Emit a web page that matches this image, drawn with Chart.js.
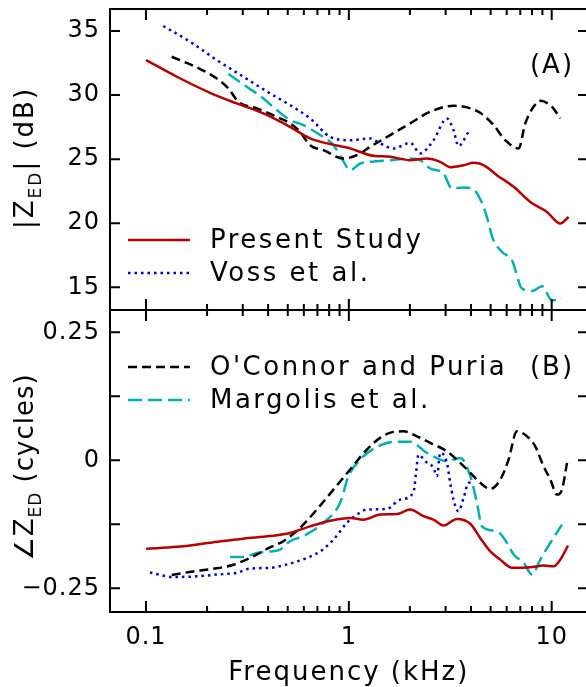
<!DOCTYPE html>
<html><head><meta charset="utf-8">
<script src="https://cdn.jsdelivr.net/npm/chart.js@4"></script>
<style>
html,body{margin:0;padding:0;background:#fff;overflow:hidden;width:586px;height:687px}
#wrap{position:relative;width:586px;height:687px;overflow:hidden;background:#fff}
canvas{position:absolute;left:0}
</style></head><body>
<div id="wrap">
<canvas id="cA" width="592" height="320" style="top:0;width:592px;height:320px"></canvas>
<canvas id="cB" width="592" height="387" style="top:300px;width:592px;height:387px"></canvas>
</div>
<script>
// ---------- data ----------
const xMajorTicks = [0.1, 1, 10];
const xTickLabels = ['0.1', '1', '10'];
const xMinorTicks = [0.2,0.3,0.4,0.5,0.6,0.7,0.8,0.9,2,3,4,5,6,7,8,9];
const magTicks = [15, 20, 25, 30, 35];
const angTicks = [-0.25, -0.125, 0, 0.125, 0.25];
const angTickLabels = ['\u22120.25', '', '0', '', '0.25'];

// (A) magnitude, dB
const presentMagFreq = [0.1,0.142,0.207,0.280,0.379,0.513,0.644,0.809,1.015,1.274,1.599,2.006,2.425,2.82,3.16,3.68,4.12,4.61,5.37,6.49,7.84,9.48,11.03,12.12];
const presentMag = [32.73,31.43,30.18,29.35,28.57,27.52,26.62,26.17,25.84,25.31,25.18,24.92,25.05,24.79,24.37,24.53,24.71,24.53,23.75,22.84,21.66,20.88,19.98,20.49];
const vossMagFreq = [0.1217,0.165,0.2233,0.302,0.409,0.513,0.644,0.809,1.015,1.274,1.426,1.66,2.006,2.247,2.615,3.045,3.28,3.47,3.89];
const vossMag = [35.39,34.16,32.73,31.43,30.13,29.22,28.18,26.74,26.48,26.62,26.23,25.84,26.27,25.45,26.48,28.18,27.27,26.02,27.13];
const ocMagFreq = [0.1339,0.178,0.2233,0.2547,0.2854,0.352,0.4414,0.513,0.575,0.644,0.749,0.9406,1.095,1.274,1.599,2.006,2.518,3.28,3.82,4.44,5.17,5.90,6.87,7.41,8.14,8.79,10.03,11.03];
const ocMag = [32.99,32.16,31.30,30.52,29.48,28.96,28.30,27.79,27.13,26.09,25.70,25.05,25.31,25.96,26.88,27.79,28.70,29.16,29.04,28.62,27.66,26.48,25.84,27.79,29.09,29.55,29.09,28.18];
const marMagFreq = [0.2547,0.314,0.379,0.4414,0.513,0.597,0.722,0.840,0.924,1.015,1.137,1.274,1.599,2.006,2.247,2.518,2.93,3.22,3.68,4.05,4.53,4.85,5.1,5.69,6.37,7.14,8.0,8.96,10.03,11.24];
const marMag = [31.64,30.65,29.74,28.83,28.05,27.66,26.88,26.09,25.05,24.14,24.66,24.79,24.92,25.05,24.92,24.27,23.88,22.71,22.79,22.71,21.6,20.2,18.9,17.76,17.11,14.90,14.71,15.08,13.98,14.12];

// (B) angle, cycles
const presentAngFreq = [0.1,0.1418,0.207,0.302,0.409,0.513,0.644,0.809,1.015,1.18,1.426,1.725,2.006,2.334,2.615,2.93,3.41,3.97,4.44,4.98,5.58,6.37,7.84,9.12,10.22,11.03,12.03];
const presentAng = [-0.173,-0.169,-0.161,-0.153,-0.148,-0.142,-0.129,-0.118,-0.1125,-0.116,-0.106,-0.105,-0.096,-0.109,-0.116,-0.1275,-0.1145,-0.124,-0.1516,-0.178,-0.194,-0.210,-0.209,-0.2057,-0.207,-0.194,-0.1666];
const vossAngFreq = [0.1046,0.1364,0.178,0.2406,0.2786,0.326,0.409,0.513,0.6206,0.722,0.840,0.978,1.095,1.227,1.54,1.79,2.083,2.14,2.205,2.38,2.615,2.72,2.82,3.045,3.16,3.28,3.47,3.68,3.89,4.12];
const vossAng = [-0.219,-0.228,-0.2266,-0.222,-0.220,-0.2115,-0.210,-0.2018,-0.1906,-0.178,-0.155,-0.122,-0.106,-0.0963,-0.095,-0.0768,-0.0625,-0.028,0.011,-0.002,-0.0148,-0.031,0.0145,-0.005,-0.044,-0.0768,-0.0996,-0.0734,-0.044,-0.044];
const ocAngFreq = [0.1339,0.171,0.2148,0.2696,0.3383,0.409,0.4757,0.575,0.695,0.840,1.015,1.227,1.426,1.66,1.86,2.166,2.518,3.045,3.54,3.97,4.44,4.98,5.58,6.13,6.74,7.55,8.30,9.12,9.85,10.62,11.24,11.9];
const ocAng = [-0.224,-0.217,-0.212,-0.204,-0.1875,-0.170,-0.158,-0.132,-0.0963,-0.0572,-0.018,0.0209,0.0438,0.0555,0.0566,0.0469,0.034,0.0176,-0.005,-0.0246,-0.044,-0.056,-0.0377,0.0014,0.0566,0.0469,0.0273,-0.0117,-0.0377,-0.067,-0.0572,-0.005];
const marAngFreq = [0.2597,0.302,0.352,0.409,0.458,0.513,0.597,0.749,0.906,0.996,1.137,1.374,1.66,2.006,2.425,2.82,3.045,3.54,3.97,4.28,4.53,5.37,6.02,6.49,7.27,8.0,8.79,9.85,11.24];
const marAng = [-0.189,-0.189,-0.181,-0.178,-0.1744,-0.158,-0.148,-0.122,-0.083,-0.031,0.0014,0.026,0.036,0.036,0.0145,0.0014,-0.002,0.0047,-0.031,-0.083,-0.129,-0.1387,-0.161,-0.184,-0.200,-0.223,-0.194,-0.161,-0.1256];

const seriesNames = ['Present Study', 'Voss et al.', "O'Connor and Puria", 'Margolis et al.'];

// ---------- style ----------
const FAM = '"DejaVu Sans", "Liberation Sans", sans-serif';
const styles = [
  {color:'#b40000', dash:[]},
  {color:'#0000c8', dash:[2.5,4]},
  {color:'#000000', dash:[9,5]},
  {color:'#00b0b0', dash:[14,6]}
];
const X_MIN = 0.06647, X_MAX = 15.1;

const zip = (xs, ys) => xs.map((x, i) => ({x, y: ys[i]}));
function ds(i, xs, ys) {
  return {label: seriesNames[i], data: zip(xs, ys), borderColor: styles[i].color,
    borderDash: styles[i].dash, borderWidth: 2.5, pointRadius: 0, fill: false,
    cubicInterpolationMode: 'monotone', borderCapStyle: 'butt', borderJoinStyle: 'round'};
}

function drawFrame(chart) {
  const {ctx, chartArea: a, scales: {x, y}} = chart;
  ctx.save();
  ctx.strokeStyle = '#000'; ctx.lineWidth = 2; ctx.setLineDash([]);
  ctx.beginPath();
  ctx.rect(a.left, a.top, a.right - a.left, a.bottom - a.top);
  xMajorTicks.forEach(v => { const p = x.getPixelForValue(v);
    ctx.moveTo(p, a.top); ctx.lineTo(p, a.top + 11); ctx.moveTo(p, a.bottom); ctx.lineTo(p, a.bottom - 11); });
  xMinorTicks.forEach(v => { const p = x.getPixelForValue(v);
    ctx.moveTo(p, a.top); ctx.lineTo(p, a.top + 6); ctx.moveTo(p, a.bottom); ctx.lineTo(p, a.bottom - 6); });
  y.ticks.forEach(t => { const p = y.getPixelForValue(t.value);
    ctx.moveTo(a.left, p); ctx.lineTo(a.left + 10, p); ctx.moveTo(a.right, p); ctx.lineTo(a.right - 10, p); });
  ctx.stroke();
  ctx.restore();
}

function drawLegend(chart, items) {
  const ctx = chart.ctx;
  ctx.save();
  items.forEach(([i, yy]) => {
    ctx.beginPath();
    ctx.strokeStyle = styles[i].color; ctx.lineWidth = 2.5; ctx.setLineDash(styles[i].dash);
    ctx.moveTo(128, yy); ctx.lineTo(190, yy); ctx.stroke();
    ctx.setLineDash([]);
    ctx.fillStyle = '#000'; ctx.font = '26px ' + FAM; ctx.letterSpacing = '2.5px';
    ctx.textAlign = 'left'; ctx.textBaseline = 'middle';
    ctx.fillText(seriesNames[i], 210, yy + 1);
  });
  ctx.restore();
}

function drawYTitle(ctx, cx, cy, pre, sub, post, sp) {
  const MAIN = '26px ' + FAM, SUB = '17px ' + FAM;
  ctx.save();
  ctx.translate(cx, cy); ctx.rotate(-Math.PI / 2);
  ctx.fillStyle = '#000'; ctx.textAlign = 'left'; ctx.textBaseline = 'alphabetic';
  ctx.letterSpacing = sp;
  ctx.font = MAIN; const w1 = ctx.measureText(pre).width, w3 = ctx.measureText(post).width;
  ctx.font = SUB; const w2 = ctx.measureText(sub).width;
  let xx = -(w1 + w2 + w3) / 2;
  ctx.font = MAIN; ctx.fillText(pre, xx, 0); xx += w1;
  ctx.font = SUB; ctx.fillText(sub, xx, 8); xx += w2;
  ctx.font = MAIN; ctx.fillText(post, xx, 0);
  ctx.restore();
}

function drawLabel(ctx, text, x, y) {
  ctx.save();
  ctx.fillStyle = '#000'; ctx.font = '26px ' + FAM; ctx.letterSpacing = '2px';
  ctx.textAlign = 'center'; ctx.textBaseline = 'middle';
  ctx.fillText(text, x, y);
  ctx.restore();
}

const spacingPlugin = { id: 'spacing', beforeDraw(chart) { chart.ctx.letterSpacing = '1px'; } };

const decoA = { id: 'decoA', afterDraw(chart) {
  drawFrame(chart);
  drawLegend(chart, [[0, 240], [1, 273]]);
  drawYTitle(chart.ctx, 33, 158, '|Z', 'ED', '| (dB)', '2px');
  drawLabel(chart.ctx, '(A)', 552, 66);
}};
const decoB = { id: 'decoB', afterDraw(chart) {
  drawFrame(chart);
  drawLegend(chart, [[2, 67], [3, 100]]);
  drawYTitle(chart.ctx, 33, 167, '\u2220Z', 'ED', ' (cycles)', '1px');
  drawLabel(chart.ctx, '(B)', 552, 68);
  const ctx = chart.ctx;
  ctx.save();
  ctx.fillStyle = '#000'; ctx.font = '26px ' + FAM; ctx.letterSpacing = '2px';
  ctx.textAlign = 'center'; ctx.textBaseline = 'alphabetic';
  ctx.fillText('Frequency (kHz)', chart.scales.x.getPixelForValue(1), 380);
  ctx.restore();
}};

const tickFont = {family: FAM, size: 24};
const noPad = s => { s.paddingTop = 0; s.paddingBottom = 0; s.paddingLeft = 0; s.paddingRight = 0; };

function xScale(show) {
  return {
    type: 'logarithmic', min: X_MIN, max: X_MAX, display: show,
    grid: {display: false, drawTicks: false}, border: {display: false},
    afterBuildTicks: s => { s.ticks = xMajorTicks.map(v => ({value: v, major: true})); },
    afterFit: s => { noPad(s); if (show) s.height = 75; },
    ticks: {font: tickFont, color: '#000', padding: 11, maxRotation: 0, autoSkip: false,
      callback: (v, i) => xTickLabels[i]}
  };
}
function yScale(min, max, tickVals, labelFn) {
  return {type: 'linear', min, max,
    grid: {display: false, drawTicks: false}, border: {display: false},
    afterBuildTicks: s => { s.ticks = tickVals.map(v => ({value: v})); },
    afterFit: s => { noPad(s); s.width = 110; },
    ticks: {font: tickFont, color: '#000', padding: 10, callback: labelFn}};
}

Chart.defaults.animation = false;

new Chart(document.getElementById('cA'), {
  type: 'line',
  data: {datasets: [ds(0, presentMagFreq, presentMag), ds(1, vossMagFreq, vossMag), ds(2, ocMagFreq, ocMag), ds(3, marMagFreq, marMag)]},
  options: {
    responsive: false, animation: false, devicePixelRatio: 1,
    layout: {padding: {left: 0, right: 4, top: 9, bottom: 10}},
    plugins: {legend: {display: false}, tooltip: {enabled: false}},
    scales: {
      x: xScale(false),
      y: yScale(13.229, 36.717, magTicks, v => String(v))
    }
  },
  plugins: [spacingPlugin, decoA]
});

new Chart(document.getElementById('cB'), {
  type: 'line',
  data: {datasets: [ds(0, presentAngFreq, presentAng), ds(1, vossAngFreq, vossAng), ds(2, ocAngFreq, ocAng), ds(3, marAngFreq, marAng)]},
  options: {
    responsive: false, animation: false, devicePixelRatio: 1,
    layout: {padding: {left: 0, right: 4, top: 10, bottom: 0}},
    plugins: {legend: {display: false}, tooltip: {enabled: false}},
    scales: {
      x: xScale(true),
      y: yScale(-0.29629, 0.29355, angTicks, (v, i) => angTickLabels[i])
    }
  },
  plugins: [spacingPlugin, decoB]
});
</script>
</body></html>
